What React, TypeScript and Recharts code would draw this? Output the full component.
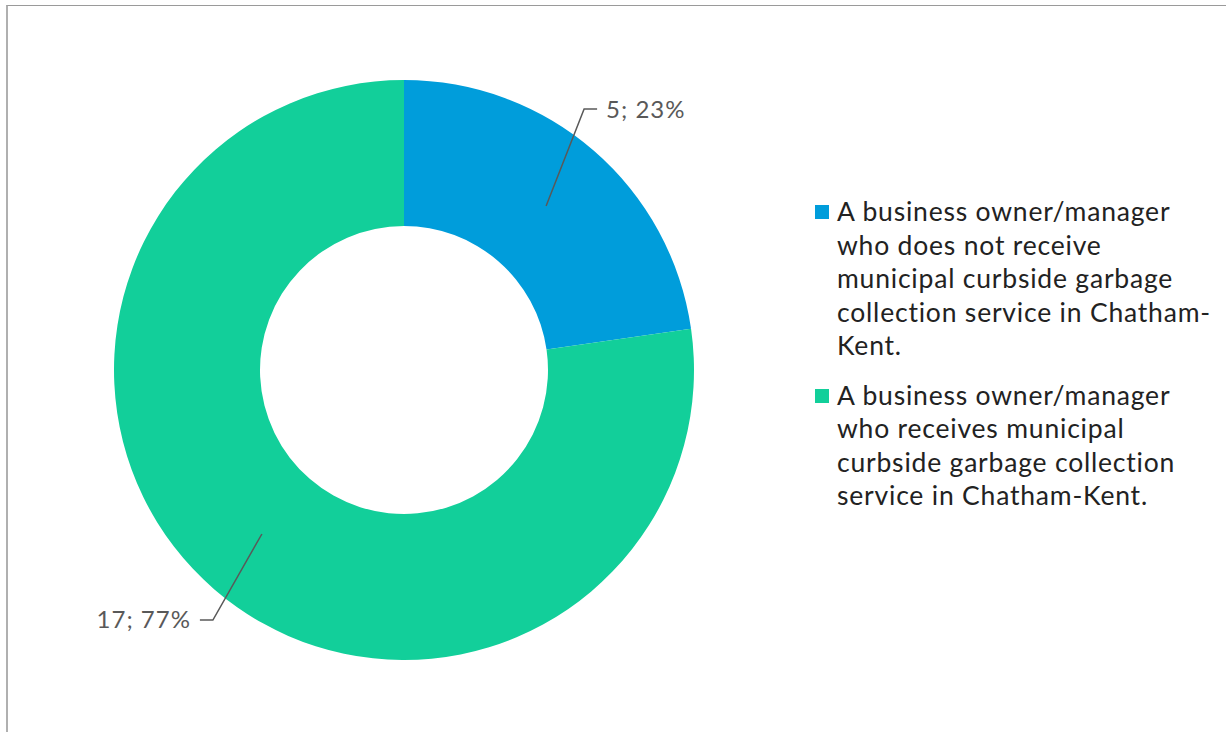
import { PieChart, Pie, Cell, Legend } from "recharts";

const categories = [
  "A business owner/manager who does not receive municipal curbside garbage collection service in Chatham-Kent.",
  "A business owner/manager who receives municipal curbside garbage collection service in Chatham-Kent.",
];
const counts = [5, 17];
const colors = ["#009ddb", "#12cf9a"];
// legend text broken the way the original wraps it
const legendLines = [
  ["A business owner/manager", "who does not receive", "municipal curbside garbage", "collection service in Chatham-", "Kent."],
  ["A business owner/manager", "who receives municipal", "curbside garbage collection", "service in Chatham-Kent."],
];
// where each leader line bends, relative to the middle of its slice
const labelOffsets = [
  [38, -97],
  [-49, 86],
];

const data = categories.map((name, i) => ({ name, value: counts[i] }));
const RADIAN = Math.PI / 180;
const FONT = "Lato, 'Open Sans', sans-serif";

function renderLabel(props: any) {
  const { cx, cy, midAngle, innerRadius, outerRadius, value, percent, index } = props;
  const r = (innerRadius + outerRadius) / 2;
  const sx = cx + r * Math.cos(-midAngle * RADIAN);
  const sy = cy + r * Math.sin(-midAngle * RADIAN);
  const [ox, oy] = labelOffsets[index];
  const ex = sx + ox;
  const ey = sy + oy;
  const dir = ox > 0 ? 1 : -1;
  const hx = ex + dir * 13;
  return (
    <g>
      <polyline
        points={`${sx},${sy} ${ex},${ey} ${hx},${ey}`}
        fill="none"
        stroke="#595959"
        strokeWidth={1.5}
      />
      <text
        x={hx + dir * 9}
        y={ey - 1}
        textAnchor={dir > 0 ? "start" : "end"}
        dominantBaseline="central"
        fill="#595959"
        fontSize={24}
        fontFamily={FONT}
        letterSpacing={1}
      >
        {`${value}; ${Math.round(percent * 100)}%`}
      </text>
    </g>
  );
}

function renderLegend() {
  return (
    <div style={{ fontFamily: FONT, fontSize: 26.5, color: "#222", lineHeight: "33.5px", letterSpacing: 0.8 }}>
      {legendLines.map((lines, i) => (
        <div key={i} style={{ display: "flex", alignItems: "flex-start", marginBottom: 16 }}>
          <div
            style={{
              width: 14,
              height: 14,
              background: colors[i],
              marginTop: 10,
              marginRight: 8,
              flexShrink: 0,
            }}
          />
          <div>
            {lines.map((l, j) => (
              <div key={j}>{l}</div>
            ))}
          </div>
        </div>
      ))}
    </div>
  );
}

export default function App() {
  return (
    <div style={{ position: "absolute", left: 0, top: 0, width: 1226, height: 732, background: "#fff" }}>
      <div
        style={{
          position: "absolute",
          left: 6,
          top: 5,
          right: 0,
          bottom: 0,
          borderTop: "1.5px solid #9a9a9a",
          borderLeft: "2px solid #b0b0b0",
        }}
      />
      <div style={{ position: "absolute", left: 0, top: 0 }}>
        <PieChart width={1226} height={732} margin={{ top: 0, right: 0, bottom: 0, left: 0 }}>
          <Pie
            data={data}
            dataKey="value"
            nameKey="name"
            cx={404}
            cy={370}
            innerRadius={144}
            outerRadius={290}
            startAngle={90}
            endAngle={-270}
            stroke="none"
            label={renderLabel}
            labelLine={false}
            isAnimationActive={false}
          >
            {data.map((d, i) => (
              <Cell key={d.name} fill={colors[i]} />
            ))}
          </Pie>
          <Legend
            content={renderLegend}
            wrapperStyle={{ position: "absolute", left: 815, top: 195, width: 410 }}
          />
        </PieChart>
      </div>
    </div>
  );
}
